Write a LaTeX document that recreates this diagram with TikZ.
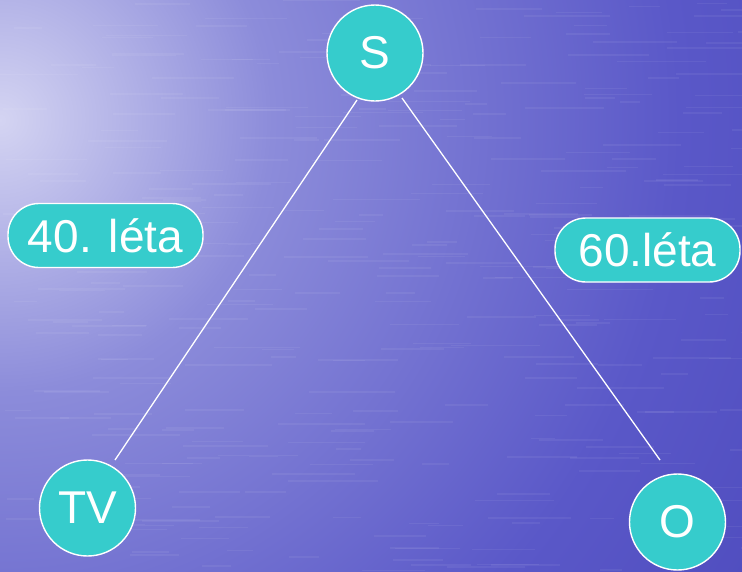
\documentclass[tikz,border=0pt]{standalone}
\usepackage{fontspec}
\setmainfont{Liberation Sans}
\definecolor{nodeteal}{RGB}{54,204,204}
\definecolor{bgA}{RGB}{212,212,242}
\definecolor{bgB}{RGB}{140,140,218}
\definecolor{bgC}{RGB}{90,88,200}
\definecolor{bgD}{RGB}{48,42,162}
\pgfdeclareradialshading{water}{\pgfpoint{0bp}{0bp}}{color(0bp)=(bgA); color(4bp)=(bgB); color(10bp)=(bgC); color(23bp)=(bgD); color(50bp)=(bgD)}
\tikzset{
  circnode/.style={circle, draw=white, line width=1.4pt, fill=nodeteal, text=white,
    minimum size=96pt, inner sep=0pt, font=\fontsize{46}{50}\selectfont},
  pillnode/.style={rectangle, rounded corners=31pt, draw=white, line width=1.4pt, fill=nodeteal,
    text=white, minimum height=64pt, inner sep=0pt, font=\fontsize{46}{50}\selectfont},
  link/.style={white, line width=1.3pt}
}
\begin{document}
\begin{tikzpicture}[x=1pt,y=-1pt]
\useasboundingbox (0,0) rectangle (742,571);
\begin{scope}
\clip (0,0) rectangle (742,571);
\shade[shading=water] (0,120) circle (1700pt);
\pgfmathsetseed{7}
\foreach \i in {1,...,320}{
  \pgfmathsetmacro{\xx}{rnd*742}
  \pgfmathsetmacro{\yy}{rnd*571}
  \pgfmathsetmacro{\ll}{20+rnd*70}
  \draw[white, opacity=0.06, line width=1.6pt] (\xx,\yy) -- ++(\ll,0);
}
\end{scope}
\node[circnode] (S) at (375,53) {S};
\node[circnode] (TV) at (87.5,508) {TV};
\node[circnode] (O) at (677.5,522) {O};
\node[pillnode, minimum width=195pt] (L40) at (105.5,235.5) {40. léta};
\node[pillnode, minimum width=185pt] (L60) at (647.5,250) {60.léta};
\coordinate (s1) at (357,100);
\coordinate (t1) at (115,460);
\coordinate (s2) at (402,98);
\coordinate (o1) at (660,460);
\draw[link] (s1) -- (t1);
\draw[link] (s2) -- (o1);
\end{tikzpicture}
\end{document}
